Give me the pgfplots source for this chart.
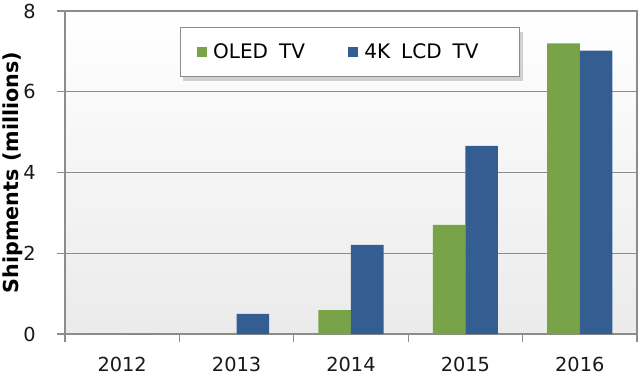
\documentclass[border=0pt]{standalone}
\usepackage{fontspec}
\setmainfont{DejaVu Sans}
\usepackage{pgfplots}
\pgfplotsset{compat=1.18}
\usetikzlibrary{shadows}
\definecolor{oledgreen}{RGB}{120,163,73}
\definecolor{lcdblue}{RGB}{52,94,145}
\definecolor{gridgray}{RGB}{140,140,140}
\begin{document}
\begin{tikzpicture}
\begin{axis}[
  scale only axis,
  width=429pt, height=242.25pt,
  ybar=0pt,
  bar width=0.285,
  xmin=-0.5, xmax=4.5,
  ymin=0, ymax=8,
  xtick={0,1,2,3,4},
  xticklabels={2012,2013,2014,2015,2016},
  minor xtick={-0.5,0.5,1.5,2.5,3.5,4.5},
  ytick={0,2,4,6,8},
  tick align=outside,
  tick pos=left,
  major x tick style={draw=none},
  minor x tick style={draw=gridgray, line width=0.8pt},
  ytick style={draw=gridgray, line width=0.8pt},
  major tick length=6pt,
  minor tick length=6pt,
  ymajorgrids,
  grid style={draw=gridgray, line width=0.9pt},
  axis line style={draw=gridgray, line width=0.9pt},
  axis background/.style={shade, top color=white, bottom color=black!8},
  /pgf/number format/assume math mode=true,
  tick label style={font=\fontsize{14.5}{17}\selectfont, text=black!90},
  yticklabel style={xshift=-12.5pt},
  xticklabel style={yshift=-8pt},
  ylabel={Shipments (millions)},
  ylabel style={font=\fontsize{15.5}{18}\selectfont\bfseries, at={(axis description cs:-0.091,0.5)}, anchor=center, rotate=0},
  legend columns=2,
  legend style={at={(rel axis cs:0.201,0.950)}, anchor=north west,
    draw=gridgray, fill=white, line width=0.8pt,
    font=\fontsize{15}{18}\selectfont,
    inner xsep=12pt, inner ysep=10pt,
    drop shadow={shadow xshift=2pt, shadow yshift=-3pt, fill=black!35},
    /tikz/every odd column/.append style={column sep=3pt},
    /tikz/every even column/.append style={column sep=30pt}},
]
\addplot[fill=oledgreen, draw=none,
  legend image code/.code={\pgfsetfillcolor{oledgreen}\pgfpathrectangle{\pgfpoint{0pt}{-3.3pt}}{\pgfpoint{7.5pt}{7.5pt}}\pgfusepath{fill}}]
  coordinates {(0,0) (1,0) (2,0.59) (3,2.70) (4,7.20)};
\addlegendentry{OLED\hspace{0.55em}TV}
\addplot[fill=lcdblue, draw=none,
  legend image code/.code={\pgfsetfillcolor{lcdblue}\pgfpathrectangle{\pgfpoint{0pt}{-3.3pt}}{\pgfpoint{7.5pt}{7.5pt}}\pgfusepath{fill}}]
  coordinates {(0,0) (1,0.5) (2,2.21) (3,4.66) (4,7.02)};
\addlegendentry{4K\hspace{0.55em}LCD\hspace{0.55em}TV\rule{17pt}{0pt}}
\end{axis}
\pgfresetboundingbox
\path (current axis.south west) ++(-48.75pt,-30.75pt) rectangle ++(480pt,281.25pt);
\end{tikzpicture}
\end{document}
